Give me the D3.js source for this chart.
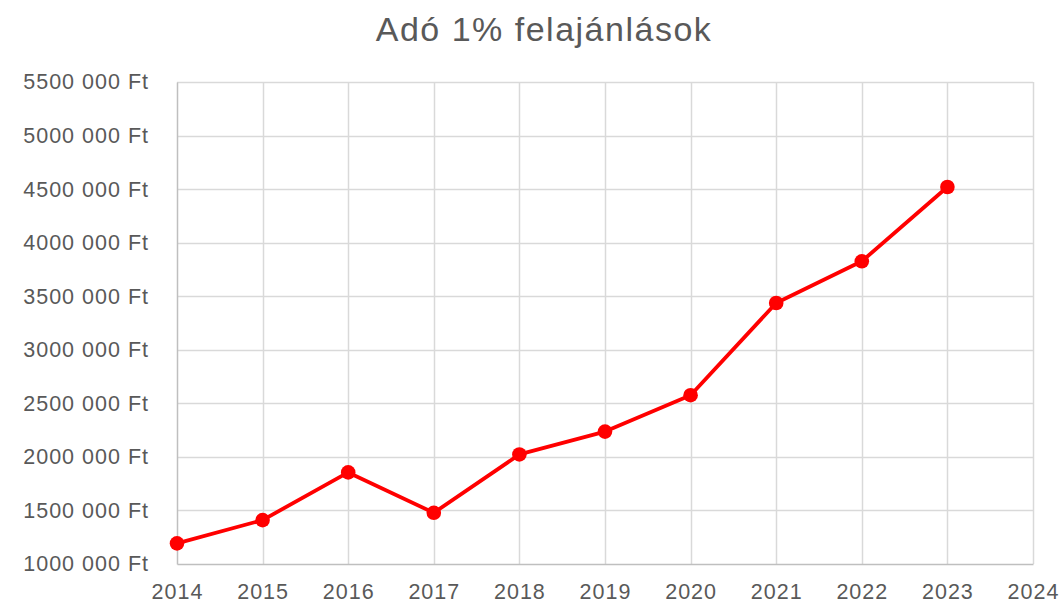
<!DOCTYPE html>
<html>
<head>
<meta charset="utf-8">
<script src="https://cdn.jsdelivr.net/npm/d3@7"></script>
<style>
  body { margin: 0; background: #fff; }
  text { font-family: "Liberation Sans", Arial, sans-serif; fill: #595959; }
</style>
</head>
<body>
<div id="chart"></div>
<script>
const years = [2014, 2015, 2016, 2017, 2018, 2019, 2020, 2021, 2022, 2023];
const amounts = [1193000, 1410000, 1855000, 1478000, 2023000, 2236000, 2576000, 3437000, 3826000, 4520000];
const xTicks = [2014, 2015, 2016, 2017, 2018, 2019, 2020, 2021, 2022, 2023, 2024];
const yTicks = [1000000, 1500000, 2000000, 2500000, 3000000, 3500000, 4000000, 4500000, 5000000, 5500000];
const title = "Adó 1% felajánlások";

const W = 1061, H = 603;
const margin = { top: 82, right: 28, bottom: 39, left: 177 };
const width = W - margin.left - margin.right;
const height = H - margin.top - margin.bottom;

const svg = d3.select("#chart")
  .append("svg")
  .attr("width", W)
  .attr("height", H);

svg.append("text")
  .attr("x", 544)
  .attr("y", 41)
  .attr("text-anchor", "middle")
  .style("font-size", "34px")
  .style("letter-spacing", "1.5px")
  .text(title);

const g = svg.append("g")
  .attr("transform", `translate(${margin.left},${margin.top})`);

const x = d3.scaleLinear().domain([2014, 2024]).range([0, width]);
const y = d3.scaleLinear().domain([1000000, 5500000]).range([height, 0]);

// grid
g.selectAll(".hgrid")
  .data(yTicks.slice(1))
  .enter().append("line")
  .attr("class", "hgrid")
  .attr("x1", 0).attr("x2", width)
  .attr("y1", d => Math.round(y(d)) + 0.5)
  .attr("y2", d => Math.round(y(d)) + 0.5)
  .attr("stroke", "#d9d9d9")
  .attr("stroke-width", 1.5);

g.selectAll(".vgrid")
  .data(xTicks.slice(1))
  .enter().append("line")
  .attr("class", "vgrid")
  .attr("x1", d => Math.round(x(d)) + 0.5)
  .attr("x2", d => Math.round(x(d)) + 0.5)
  .attr("y1", 0).attr("y2", height)
  .attr("stroke", "#d9d9d9")
  .attr("stroke-width", 1.5);

// axes
const xAxis = d3.axisBottom(x).tickValues(xTicks).tickFormat(d3.format("d")).tickSize(0).tickPadding(20);
const yAxis = d3.axisLeft(y).tickValues(yTicks).tickSize(0).tickPadding(28)
  .tickFormat(d => {
    const m = Math.floor(d / 1000000);
    const rest = d % 1000000;
    return m + d3.format("03d")(Math.floor(rest / 1000)) + " 000 Ft";
  });

const gx = g.append("g")
  .attr("transform", `translate(0,${height})`)
  .call(xAxis);
gx.select(".domain").attr("stroke", "#bfbfbf").attr("stroke-width", 1.5);
gx.selectAll("text")
  .style("font-size", "21.5px")
  .style("letter-spacing", "1px")
  .style("fill", "#595959");

const gy = g.append("g").call(yAxis);
gy.select(".domain").attr("stroke", "#bfbfbf").attr("stroke-width", 1.5);
gy.selectAll("text")
  .style("font-size", "21.5px")
  .style("letter-spacing", "1px")
  .style("fill", "#595959");

// series
const data = years.map((yr, i) => ({ year: yr, value: amounts[i] }));

g.append("path")
  .datum(data)
  .attr("fill", "none")
  .attr("stroke", "#ff0000")
  .attr("stroke-width", 3.8)
  .attr("stroke-linejoin", "round")
  .attr("d", d3.line().x(d => x(d.year)).y(d => y(d.value)));

g.selectAll(".point")
  .data(data)
  .enter().append("circle")
  .attr("class", "point")
  .attr("cx", d => x(d.year))
  .attr("cy", d => y(d.value))
  .attr("r", 7.3)
  .attr("fill", "#ff0000");
</script>
</body>
</html>
